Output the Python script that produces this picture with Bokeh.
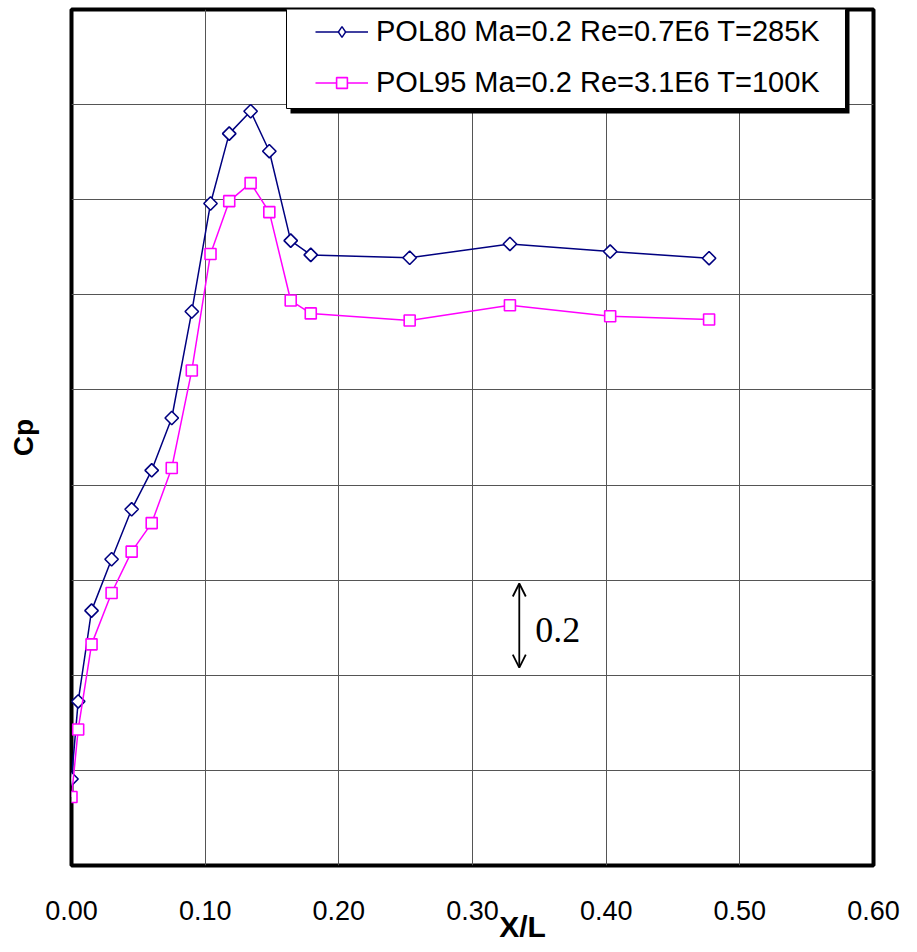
from math import pi
from bokeh.plotting import figure
from bokeh.models import (Range1d, FixedTicker, Legend, LegendItem, Label, Arrow,
                          OpenHead, BoxAnnotation, PrintfTickFormatter)
from bokeh.embed import file_html
from bokeh.resources import INLINE

# ---- data ----
x_pos = [0.000, 0.005, 0.015, 0.030, 0.045, 0.060, 0.075, 0.090, 0.104, 0.118,
         0.134, 0.148, 0.164, 0.179, 0.253, 0.328, 0.403, 0.477]
cp_pol80 = [0.182, 0.345, 0.536, 0.644, 0.749, 0.831, 0.941, 1.165, 1.392, 1.539,
            1.586, 1.502, 1.314, 1.284, 1.278, 1.307, 1.291, 1.277]
cp_pol95 = [0.144, 0.286, 0.465, 0.573, 0.660, 0.720, 0.836, 1.041, 1.286, 1.397,
            1.435, 1.374, 1.188, 1.161, 1.146, 1.178, 1.155, 1.148]
label_pol80 = "POL80 Ma=0.2 Re=0.7E6 T=285K"
label_pol95 = "POL95 Ma=0.2 Re=3.1E6 T=100K"
x_ticks = [0.0, 0.1, 0.2, 0.3, 0.4, 0.5, 0.6]
x_tick_labels = ["0.00", "0.10", "0.20", "0.30", "0.40", "0.50", "0.60"]
y_grid = [0.0, 0.2, 0.4, 0.6, 0.8, 1.0, 1.2, 1.4, 1.6, 1.8]
scale_bar = [0.416, 0.593]   # arrow ends marking a 0.2 step of Cp
scale_bar_x = 0.335

NAVY = "#000080"
MAGENTA = "#ff00ff"
FONT = "Liberation Sans"

p = figure(width=913, height=952, x_range=Range1d(0, 0.6), y_range=Range1d(0, 1.8),
           output_backend="svg", toolbar_location=None,
           min_border_left=71, min_border_right=40, min_border_top=9, min_border_bottom=87)

p.outline_line_color = "black"
p.outline_line_width = 4
p.background_fill_color = "white"
p.border_fill_color = "white"

# x axis
p.xaxis.ticker = FixedTicker(ticks=x_ticks)
p.xaxis.formatter = PrintfTickFormatter(format="%.2f")
p.xaxis.major_label_overrides = dict(zip(x_ticks, x_tick_labels))
p.xaxis.axis_line_color = None
p.xaxis.major_tick_line_color = None
p.xaxis.minor_tick_line_color = None
p.xaxis.major_tick_out = 0
p.xaxis.major_tick_in = 0
p.xaxis.major_label_standoff = 35
p.xaxis.major_label_text_font = FONT
p.xaxis.major_label_text_font_size = "27px"
p.xaxis.major_label_text_color = "black"
# axis title sits right of centre in the reference: pad with no-break spaces
p.xaxis.axis_label = "\u00a0" * 12 + "X/L"
p.xaxis.axis_label_text_font = FONT
p.xaxis.axis_label_text_font_style = "bold"
p.xaxis.axis_label_text_font_size = "30px"
p.xaxis.axis_label_text_color = "black"
p.xaxis.axis_label_standoff = -13

# y axis (no tick labels; grid carries its own ticker)
p.yaxis.ticker = FixedTicker(ticks=[])
p.yaxis.axis_line_color = None
p.yaxis.major_tick_line_color = None
p.yaxis.minor_tick_line_color = None
p.yaxis.major_tick_out = 0
p.yaxis.major_tick_in = 0
p.yaxis.major_label_standoff = 0
p.yaxis.axis_label = "Cp"
p.yaxis.axis_label_text_font = FONT
p.yaxis.axis_label_text_font_style = "bold"
p.yaxis.axis_label_text_font_size = "28px"
p.yaxis.axis_label_text_color = "black"
p.yaxis.axis_label_standoff = 33

p.xgrid.ticker = FixedTicker(ticks=x_ticks)
p.ygrid.ticker = FixedTicker(ticks=y_grid)
p.xgrid.grid_line_color = "#555555"
p.ygrid.grid_line_color = "#555555"
p.xgrid.grid_line_width = 1
p.ygrid.grid_line_width = 1

# series
l1 = p.line(x_pos, cp_pol80, line_color=NAVY, line_width=1.5)
# diamond key for the legend (legend glyphs ignore marker angle); hidden under s1
s1_key = p.scatter(x_pos, cp_pol80, marker="diamond", size=8,
                   line_color=NAVY, fill_color="white", line_width=1.4)
s1 = p.scatter(x_pos, cp_pol80, marker="square", angle=pi / 4, size=9.5,
               line_color=NAVY, fill_color="white", line_width=1.6)
l2 = p.line(x_pos, cp_pol95, line_color=MAGENTA, line_width=1.5)
s2 = p.scatter(x_pos, cp_pol95, marker="square", size=11,
               line_color=MAGENTA, fill_color="white", line_width=1.6)

# scale arrow "0.2"
p.add_layout(Arrow(x_start=scale_bar_x, y_start=scale_bar[0], x_end=scale_bar_x, y_end=scale_bar[1],
                   start=OpenHead(size=13, line_width=1.8, line_color="black"),
                   end=OpenHead(size=13, line_width=1.8, line_color="black"),
                   line_width=1.8, line_color="black"))
p.add_layout(Label(x=0.347, y=0.495, text="0.2", text_font="Liberation Serif",
                   text_font_size="36px", text_baseline="alphabetic", text_align="left",
                   text_color="black"))

# legend box with shadow
p.add_layout(BoxAnnotation(left=219, right=778, top=857, bottom=752,
                           left_units="screen", right_units="screen",
                           top_units="screen", bottom_units="screen",
                           fill_color="black", fill_alpha=1, line_color=None))
p.add_layout(BoxAnnotation(left=215, right=774, top=861, bottom=757,
                           left_units="screen", right_units="screen",
                           top_units="screen", bottom_units="screen",
                           fill_color="white", fill_alpha=1, line_color="black",
                           line_alpha=1, line_width=1))

legend = Legend(items=[LegendItem(label=label_pol80, renderers=[l1, s1_key]),
                       LegendItem(label=label_pol95, renderers=[l2, s2])],
                location=(244, 766), padding=0, spacing=18, margin=0,
                glyph_width=53, glyph_height=27, label_standoff=8,
                label_text_font=FONT, label_text_font_size="29px", label_text_color="black",
                background_fill_alpha=0, border_line_alpha=0)
p.add_layout(legend)

open("out.html", "w").write(file_html(p, INLINE))
